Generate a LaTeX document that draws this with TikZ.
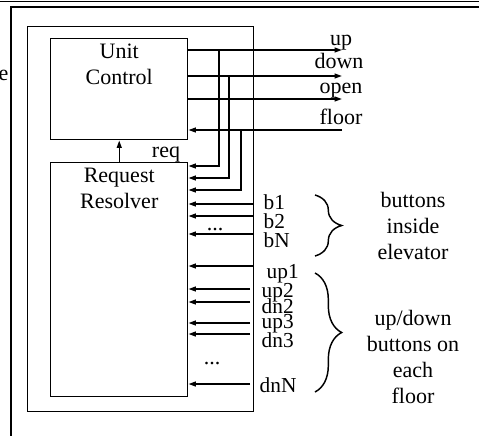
\documentclass[tikz,border=0pt]{standalone}
\usepackage{fontspec}
\setmainfont{Liberation Serif}
\usetikzlibrary{arrows.meta, positioning, decorations.pathreplacing}

\begin{document}
\begin{tikzpicture}[
  x=0.75pt, y=-0.75pt,
  line width=1.1pt,
  blk/.style={rectangle, draw, anchor=north west, inner sep=0pt},
  txt/.style={font=\fontsize{16.5}{19.5}\selectfont, inner sep=0pt, align=center},
  port/.style={font=\fontsize{16}{16}\selectfont, inner sep=0pt, anchor=base west},
  arr/.style={-{Triangle[length=5.5pt, width=3.6pt]}},
  brc/.style={decorate, decoration={brace, amplitude=20pt}},
]
  \useasboundingbox (0,0) rectangle (479,436);
  % page frame
  \draw[line width=0.7pt] (0,1) -- (479,1);
  \draw (11,436) |- (479,7);
  \node[txt, anchor=base east] (cut) at (9,80) {e};

  % blocks
  \node[blk, minimum width=169.5pt, minimum height=288.75pt] (ctrl) at (27,26) {};
  \node[blk, minimum width=102.75pt, minimum height=75.75pt] (uc) at (50,38) {};
  \node[blk, minimum width=102.75pt, minimum height=175.5pt] (rr) at (50,162) {};
  \node[txt, below=3.75pt of uc.north] (uctext) {Unit\\Control};
  \node[txt, below=4pt of rr.north] (rrtext) {Request\\Resolver};

  \draw[arr] (rr) -- (uc);
  \node[txt, anchor=base] (req) at (166,157) {req};

  % outputs of the unit control
  \foreach \n/\y/\b/\lx in {up/50/45/341, down/76/68/339, open/99/93/341}{
    \coordinate (o\n) at (342,\y);
    \draw[arr] (uc.east |- o\n) -- (o\n);
    \node[txt, anchor=base] (l\n) at (\lx,\b) {\n};
  }
  \coordinate (ofloor) at (342,130);
  \draw[arr] (ofloor) -- (uc.east |- ofloor);
  \node[txt, anchor=base] (lfloor) at (341,124) {floor};

  % taps into the request resolver
  \foreach \n/\x/\y/\z in {up/219/50/166, down/229/76/178, floor/241/130/190}{
    \coordinate (t\n) at (\x,\y);
    \coordinate (c\n) at (\x,\z);
    \draw[arr] (t\n) -- (c\n) -- (rr.east |- c\n);
  }

  % button inputs
  \foreach \n/\x/\y/\lx/\b in {b1/253/204/263/209, b2/253/216/263/228, bN/253/234/263/247,
      up1/253/266/266/278, up2/250/289/261/297, dn2/250/302/261/313,
      up3/250/323/261/328, dn3/250/334/261/347, dnN/250/384/259/392}{
    \coordinate (i\n) at (\x,\y);
    \draw[arr] (i\n) -- (rr.east |- i\n);
    \node[port] (l\n) at (\lx,\b) {\n};
  }
  \node[txt, anchor=base] (dotsb) at (215,230) {...};
  \node[txt, anchor=base] (dotsf) at (212,364) {...};

  % braces
  \coordinate (bra) at (315,195);
  \coordinate (brb) at (315,256);
  \coordinate (brc) at (315,273);
  \coordinate (brd) at (315,392);
  \draw[brc] (bra) -- (brb);
  \draw[brc] (brc) -- (brd);
  \node[txt] (inside) at (413,226) {buttons\\inside\\elevator};
  \node[txt] (floors) at (413,357) {up/down\\buttons on\\each\\floor};
\end{tikzpicture}
\end{document}
